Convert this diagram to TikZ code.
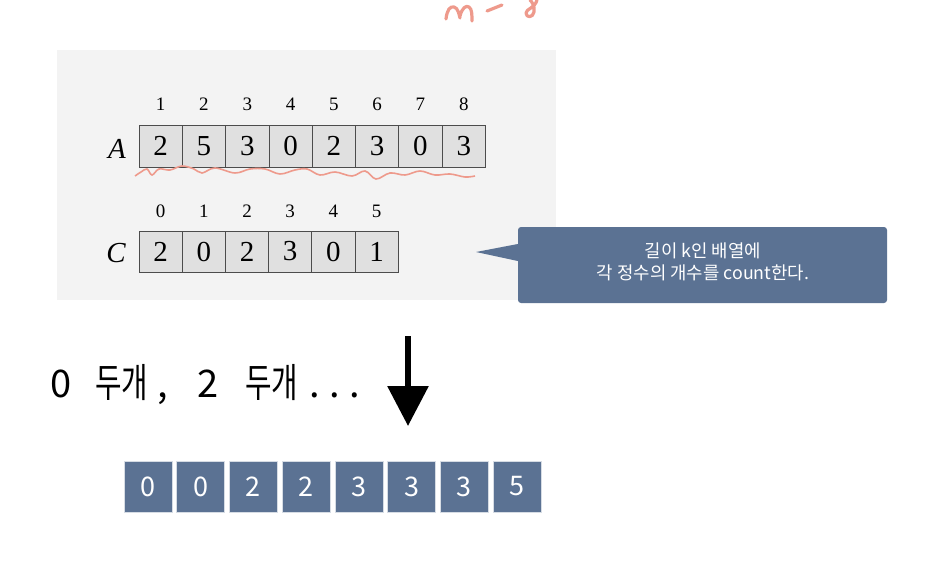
\documentclass[tikz,border=0pt]{standalone}
\usepackage{fontspec}
\newfontfamily\kr{Noto Sans CJK KR}
\newfontfamily\krn[FakeStretch=0.72]{Noto Sans CJK KR}
\newfontfamily\tms{Liberation Serif}
\usetikzlibrary{arrows.meta}
\definecolor{slate}{HTML}{5B7293}
\definecolor{panel}{HTML}{F3F3F3}
\definecolor{cellg}{HTML}{E0E0E0}
\definecolor{salmon}{HTML}{EE9A8C}
\begin{document}
\begin{tikzpicture}[x=1pt,y=-1pt,
 cellbox/.style={draw=black!70, fill=cellg, line width=0.8pt, minimum width=43.3pt, minimum height=42pt, inner sep=0pt, font=\tms\fontsize{29}{29}\selectfont},
 idx/.style={font=\tms\fontsize{19}{19}\selectfont, inner sep=0pt},
 arrlab/.style={font=\tms\itshape\fontsize{29}{29}\selectfont, inner sep=0pt},
 outbox/.style={fill=slate, draw=white!75!slate, line width=0.6pt, minimum width=48pt, minimum height=51pt, inner sep=0pt, text=white, font=\kr\fontsize{27}{27}\selectfont},
 bigtxt/.style={font=\krn\fontsize{40}{40}\selectfont, inner sep=0pt, anchor=base west},
 bigdig/.style={font=\kr\fontsize{38}{38}\selectfont, inner sep=0pt, anchor=base west},
 hand/.style={draw=salmon, line width=3.2pt, line cap=round, line join=round}]
\useasboundingbox (0,0) rectangle (926,564);
% panel
\fill[panel] (57,50) rectangle (556,300);
% array A
\node[arrlab] (alab) at (117,149) {A};
\foreach \v [count=\i] in {2,5,3,0,2,3,0,3}{
  \node[cellbox] (a\i) at ({139+43.3*(\i-0.5)},146) {\v};
  \node[idx] (ai\i) at ({139+43.3*(\i-0.5)},104) {\i};
}
% wavy underline
\draw[salmon, line width=1.6pt] plot[smooth, tension=0.6] coordinates {(135,176) (141,172) (147,169) (152,175) (159,169) (170,170) (182,166) (194,169) (202,173) (215,168) (235,173) (250,169) (265,169) (280,174) (295,170) (307,169) (320,175) (335,172) (352,176) (365,171) (376,179) (390,173) (405,175) (420,171) (435,175) (450,174) (465,177) (475,176)};
% array C
\node[arrlab] (clab) at (116,253) {C};
\foreach \v [count=\i] in {2,0,2,3,0,1}{
  \pgfmathtruncatemacro{\j}{\i-1}
  \node[cellbox, minimum width=43.2pt, minimum height=41pt] (c\i) at ({139+43.2*(\i-0.5)},251.5) {\v};
  \node[idx] (ci\i) at ({139+43.2*(\i-0.5)},211) {\j};
}
% callout
\node[fill=slate, rounded corners=3pt, minimum width=369pt, minimum height=76pt, inner sep=0pt] (note) at (702.5,265) {};
\coordinate (tip) at (476,252);
\fill[slate] (note.west |- 0,244) -- (tip) -- (note.west |- 0,261) -- cycle;
\node[text=white, align=center, font=\kr\fontsize{17.8}{22}\selectfont, inner sep=0pt] (notetxt) at (703,262) {길이 k인 배열에\\각 정수의 개수를 count한다.};
% big text
\node[bigdig] (t0) at (50,397) {0};
\node[bigtxt] (t1) at (95,397) {두개};
\node[bigdig] (t1c) at (157,397) {,};
\node[bigdig] (t2) at (197,397) {2};
\node[bigtxt] (t3) at (245,397) {두개};
\node[bigdig] (t4a) at (309,397) {.};
\node[bigdig] (t4b) at (329,397) {.};
\node[bigdig] (t4c) at (349,397) {.};
% arrow
\coordinate (arrtop) at (408,336);
\coordinate (arrbot) at (408,426);
\draw[line width=6pt, -{Triangle[width=40pt,length=40pt]}] (arrtop) -- (arrbot);
% output boxes
\foreach \v [count=\i] in {0,0,2,2,3,3,3,5}{
  \node[outbox] (o\i) at ({148+52.7*(\i-1)},486.5) {\v};
}
% handwriting n=8
\draw[hand] (446,19) .. controls (447,10) and (450,6) .. (454,7) .. controls (458,8) and (459,14) .. (460,18);
\draw[hand] (460,16) .. controls (462,8) and (466,5) .. (469,7) .. controls (472,9) and (472,15) .. (472,21);
\draw[hand] (487,11) -- (502,5);
\draw[hand] (537,0) .. controls (535,8) and (526,9) .. (526,13) .. controls (526,18) and (533,18) .. (534,12) .. controls (535,6) and (532,2) .. (530,0);
\end{tikzpicture}
\end{document}
